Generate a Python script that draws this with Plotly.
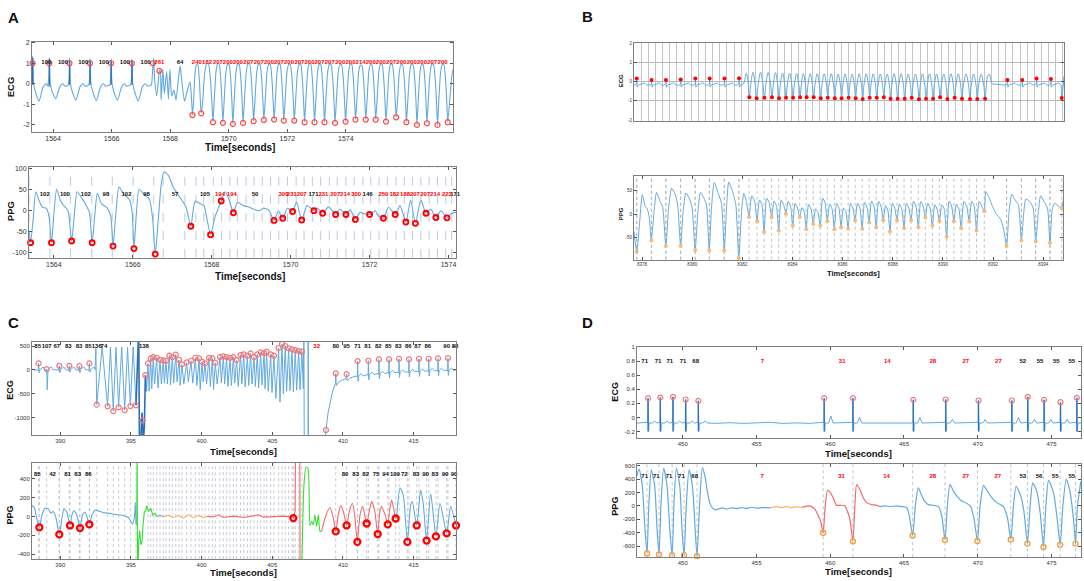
import plotly.graph_objects as go

FONT = 'Liberation Sans, Arial, sans-serif'
W, H = 1084, 581

# ============================ DATA ============================
# ---------- Panel A : ECG ----------
A_ECG_R_T = [1563.30, 1563.87, 1564.56, 1565.26, 1565.98, 1566.69, 1567.41]
A_ECG_R_PEAK = [1.35, 1.27, 1.25, 1.22, 1.22, 1.20]
A_ECG_R_MIN = [-0.85, -0.72, -0.80, -0.82, -0.80, -0.85]
A_ECG_BEAT_DT = [-0.04, -0.012, 0.005, 0.03, 0.09, 0.22, 0.36, 0.46, 0.54, 0.63]
A_ECG_BEAT_V = [-0.05, 0.30, 'R', 0.05, -0.35, 'S', -0.15, 0.0, -0.12, -0.08]
A_ECG_MID = [(1567.36, -0.05), (1567.39, 0.4), (1567.43, 1.25), (1567.47, 0.2), (1567.54, -0.58),
             (1567.60, 0.2), (1567.63, 0.63), (1567.66, 0.65), (1567.69, -0.8), (1567.75, 0.7),
             (1567.80, -0.5), (1567.88, 0.6), (1567.94, -0.75), (1567.99, 0.7), (1568.05, -0.6),
             (1568.13, -0.3), (1568.20, -0.8), (1568.28, 0.2), (1568.34, 0.87), (1568.40, 0.1),
             (1568.49, -0.85), (1568.59, -0.3), (1568.68, 0.1), (1568.72, -0.5)]
A_ECG_MID_CIRC = [(1567.63, 0.63)]
A_ECG_VT_T = [1568.76, 1569.06, 1569.46, 1569.80, 1570.14, 1570.49, 1570.85, 1571.20, 1571.55,
              1571.88, 1572.24, 1572.59, 1572.93, 1573.27, 1573.63, 1573.99, 1574.33, 1574.68,
              1575.02, 1575.37, 1575.72, 1576.07, 1576.43, 1576.77, 1577.13, 1577.48]
A_ECG_VT_V = [-1.52, -1.44, -1.87, -1.90, -1.95, -1.90, -1.82, -1.76, -1.74, -1.79, -1.79, -1.87,
              -1.87, -1.87, -1.90, -1.84, -1.74, -1.74, -1.74, -1.84, -1.63, -1.87, -2.00, -1.92,
              -2.00, -1.87]
A_ECG_VT_PEAK = [0.92, 0.97, 0.97, 0.95, 0.95, 0.97, 0.95, 0.95, 0.95, 0.93, 0.95, 0.97, 0.95,
                 0.95, 0.93, 0.95, 0.90, 0.92, 0.95, 0.95, 0.93, 0.95, 0.93, 0.95, 0.93]
A_ECG_VT_SHAPE = [(0.12, -0.9), (0.30, 0.55), (0.46, 'P'), (0.62, 'P'), (0.79, 0.2), (0.91, -0.9)]
A_ECG_TAIL = [(1577.56, -0.6), (1577.63, 0.5), (1577.70, 0.85)]
A_ECG_LAB_NORMAL = ['100', '100', '100', '100', '100', '100']
A_ECG_LAB_EXTRA_T = [1567.63, 1568.34]
A_ECG_LAB_EXTRA = ['261', '64']
A_ECG_LAB_EXTRA_ABN = [True, False]
A_ECG_LAB_VT = ['240', '182', '207', '200', '200', '207', '207', '200', '207', '200', '207', '200',
                '207', '207', '200', '200', '214', '200', '200', '207', '200', '200', '200', '207', '200']

# ---------- Panel A : PPG ----------
A_PPG = [(1563.37, -47), (1563.41, -76), (1563.48, -16), (1563.54, 45), (1563.63, 23), (1563.71, 8),
         (1563.81, 6), (1563.88, -16), (1563.94, -76), (1564.00, -8), (1564.07, 51), (1564.17, 23),
         (1564.28, 9), (1564.36, 0), (1564.45, -72), (1564.52, -8), (1564.59, 45), (1564.70, 31),
         (1564.81, 14), (1564.90, -4), (1564.97, -76), (1565.04, -8), (1565.10, 41), (1565.21, 16),
         (1565.34, 8), (1565.44, -12), (1565.50, -84), (1565.57, -8), (1565.65, 56), (1565.78, 39),
         (1565.91, 27), (1565.98, 0), (1566.03, -90), (1566.09, -8), (1566.16, 51), (1566.28, 39),
         (1566.42, 27), (1566.50, -16), (1566.57, -103), (1566.65, -16), (1566.72, 62), (1566.79, 92),
         (1566.90, 84), (1567.03, 55), (1567.20, 31), (1567.35, 8), (1567.47, -37), (1567.58, 23),
         (1567.70, 17), (1567.80, 12), (1567.97, -57), (1568.08, -16), (1568.24, 23), (1568.34, 45),
         (1568.45, 23), (1568.55, -5), (1568.65, 20), (1568.80, 12), (1568.93, 9), (1569.06, 4),
         (1569.22, 0), (1569.31, 6), (1569.44, 2), (1569.58, -23), (1569.69, 0), (1569.80, -18),
         (1569.92, 6), (1570.05, -2), (1570.15, 20), (1570.28, -22), (1570.41, 12), (1570.49, 8),
         (1570.59, 0), (1570.68, 6), (1570.81, -6), (1570.96, 9), (1571.14, -9), (1571.25, 4),
         (1571.40, -9), (1571.51, 2), (1571.64, -21), (1571.76, -4), (1571.89, -8), (1572.00, -9),
         (1572.14, 0), (1572.22, -12), (1572.35, -18), (1572.48, 8), (1572.65, -9), (1572.77, 12),
         (1572.92, -27), (1573.04, 25), (1573.16, -30), (1573.30, 25), (1573.43, -6), (1573.55, 4),
         (1573.68, -16), (1573.81, 0), (1573.96, -17), (1574.08, -6), (1574.19, -4)]
A_PPG_MIN = [(1563.41, -76), (1563.94, -76), (1564.45, -72), (1564.97, -76), (1565.50, -84),
             (1566.03, -90), (1566.57, -103), (1567.47, -37), (1567.97, -57), (1568.24, 23),
             (1568.55, -5), (1569.58, -23), (1569.80, -18), (1570.05, -2), (1570.28, -22),
             (1570.59, 0), (1570.81, -6), (1571.14, -9), (1571.40, -9), (1571.64, -21),
             (1572.00, -9), (1572.35, -18), (1572.65, -9), (1572.92, -27), (1573.16, -30),
             (1573.43, -6), (1573.68, -16), (1573.96, -17)]
A_PPG_LAB_T = [1563.77, 1564.28, 1564.81, 1565.32, 1565.84, 1566.35, 1567.07, 1567.83, 1568.21,
               1568.51, 1569.10, 1569.82, 1570.03, 1570.28, 1570.58, 1570.83, 1571.13, 1571.38,
               1571.66, 1571.95, 1572.35, 1572.63, 1572.90, 1573.15, 1573.41, 1573.66, 1573.96, 1574.17]
A_PPG_LAB = ['102', '100', '102', '98', '102', '98', '57', '105', '194', '194', '50', '300', '231',
             '207', '171', '231', '207', '214', '300', '146', '250', '182', '188', '207', '207', '214',
             '222', '171']
A_PPG_LAB_ABN = [0, 0, 0, 0, 0, 0, 0, 0, 1, 1, 0, 1, 1, 1, 0, 1, 1, 1, 1, 0, 1, 1, 1, 1, 1, 1, 1, 0]
A_PPG_VLINES = [1563.37, 1563.90, 1564.42, 1564.96, 1565.48, 1566.01, 1566.53, 1566.77, 1567.32,
                1567.60, 1567.80, 1568.04, 1568.25, 1568.46, 1568.65, 1568.87, 1569.07, 1569.28,
                1569.49, 1569.70, 1569.92, 1570.14, 1570.34, 1570.55, 1570.76, 1570.98, 1571.18,
                1571.40, 1571.61, 1571.83, 1572.03, 1572.24, 1572.45, 1572.67, 1572.88, 1573.09,
                1573.30, 1573.51, 1573.72, 1573.93, 1574.08]

# ---------- Panel B : ECG ----------
B_ECG_N1_T = [8377.79, 8378.38, 8378.95, 8379.54, 8380.12, 8380.69, 8381.28, 8381.86]
B_ECG_N1_V = [0.17, 0.10, 0.10, 0.12, 0.17, 0.17, 0.17, 0.19]
B_ECG_N2_T = [8392.54, 8393.13, 8393.70, 8394.27]
B_ECG_N2_V = [0.10, 0.10, 0.17, 0.15]
B_ECG_BEAT_DT = [-0.06, -0.015, 0.0, 0.025, 0.06, 0.20, 0.30, 0.40]
B_ECG_BEAT_V = [-0.17, -0.12, 'R', -0.28, -0.17, -0.12, -0.06, -0.16]
B_ECG_LEADIN = [(8377.68, -0.16)]
B_ECG_VT_START = [(8382.03, -0.12), (8382.10, 0.2), (8382.15, 0.45), (8382.21, 0.1)]
B_ECG_VT_T = [8382.27, 8382.56, 8382.87, 8383.17, 8383.45, 8383.73, 8384.01, 8384.29, 8384.55,
              8384.83, 8385.11, 8385.39, 8385.67, 8385.94, 8386.22, 8386.50, 8386.78, 8387.06,
              8387.34, 8387.62, 8387.89, 8388.17, 8388.45, 8388.73, 8389.02, 8389.30, 8389.58,
              8389.86, 8390.15, 8390.44, 8390.73, 8391.05, 8391.34, 8391.65]
B_ECG_VT_V = [-0.81, -0.86, -0.84, -0.81, -0.86, -0.83, -0.83, -0.81, -0.81, -0.81, -0.86, -0.84,
              -0.86, -0.86, -0.84, -0.86, -0.90, -0.83, -0.84, -0.81, -0.88, -0.88, -0.88, -0.84,
              -0.91, -0.88, -0.88, -0.81, -0.90, -0.84, -0.88, -0.90, -0.90, -0.88]
B_ECG_VT_PEAK = [0.50, 0.50, 0.48, 0.48, 0.46, 0.45, 0.43, 0.43, 0.42, 0.42, 0.42, 0.42, 0.41,
                 0.41, 0.41, 0.42, 0.42, 0.42, 0.41, 0.41, 0.42, 0.42, 0.41, 0.41, 0.42, 0.42,
                 0.41, 0.41, 0.42, 0.42, 0.41, 0.41, 0.41]
B_ECG_VT_SHAPE = [(0.17, -0.2), (0.5, 'P'), (0.83, -0.2)]
B_ECG_VT_END = [(8391.70, -0.2), (8391.76, 0.35), (8391.82, 0.4), (8391.88, 0.1), (8391.93, -0.1),
                (8392.10, -0.13), (8392.30, -0.15)]
B_ECG_END = [(8394.66, -0.16), (8394.70, -0.85), (8394.79, 0.3)]

# ---------- Panel B : PPG ----------
B_PPG_HEAD = [(8377.68, -37), (8377.79, -80), (8377.92, -8), (8378.01, 41), (8378.13, 16),
              (8378.21, 11), (8378.29, -8), (8378.37, -56), (8378.48, 6), (8378.58, 46),
              (8378.72, 27), (8378.82, 16), (8378.95, -68), (8379.06, 13), (8379.18, 55),
              (8379.33, 41), (8379.42, 20), (8379.54, -68), (8379.64, 6), (8379.75, 45),
              (8379.88, 34), (8379.99, 16), (8380.12, -76), (8380.23, 6), (8380.33, 46),
              (8380.47, 34), (8380.57, 20), (8380.68, -77), (8380.77, 13), (8380.88, 67),
              (8381.04, 44), (8381.17, 23), (8381.28, -77), (8381.37, 13), (8381.46, 68),
              (8381.61, 48), (8381.74, 20), (8381.86, -93), (8381.97, 6), (8382.06, 44), (8382.16, 27)]
B_PPG_HEAD_MIN = [(8377.79, -80), (8378.37, -56), (8378.95, -68), (8379.54, -68), (8380.12, -76),
                  (8380.68, -77), (8381.28, -77), (8381.86, -93)]
B_PPG_VT_T = [8382.27, 8382.59, 8382.87, 8383.17, 8383.45, 8383.74, 8384.01, 8384.29, 8384.55,
              8384.83, 8385.11, 8385.39, 8385.67, 8385.94, 8386.22, 8386.50, 8386.78, 8387.06,
              8387.34, 8387.62, 8387.89, 8388.17, 8388.45, 8388.73, 8389.02, 8389.30, 8389.58,
              8389.86, 8390.15, 8390.44, 8390.73, 8391.05, 8391.34, 8391.65]
B_PPG_VT_V = [-6, -15, -38, -7, -35, 1, -25, -6, -32, -21, -25, -15, -32, -28, -31, -13, -31, -18,
              -28, -13, -37, -13, -30, -13, -28, -7, -25, -15, -48, -15, -30, -15, -35, 6]
B_PPG_VT_PEAK = [39, 30, 34, 28, 30, 27, 23, 14, 21, 11, 34, 21, 23, 13, 23, 23, 25, 27, 27, 18,
                 23, 21, 23, 27, 27, 23, 20, 20, 27, 21, 27, 27, 27]
B_PPG_VT_SHOULDER = [28, 20, 24, 18, 20, 17, 13, 6, 11, 3, 24, 11, 13, 5, 13, 13, 15, 17, 17, 8,
                     13, 11, 13, 17, 17, 13, 10, 10, 17, 11, 17, 17, 17]
B_PPG_TAIL = [(8391.71, 48), (8391.85, 34), (8391.98, 16), (8392.11, 2), (8392.31, -12),
              (8392.44, -37), (8392.54, -68), (8392.64, 6), (8392.75, 42), (8392.88, 30),
              (8393.01, 20), (8393.13, -56), (8393.23, 6), (8393.31, 32), (8393.46, 27),
              (8393.60, 13), (8393.70, -58), (8393.81, 6), (8393.90, 39), (8394.03, 27),
              (8394.17, 13), (8394.27, -61), (8394.36, 10), (8394.45, 23), (8394.56, 20),
              (8394.66, 14), (8394.74, 13), (8394.79, 28)]
B_PPG_TAIL_MIN = [(8392.54, -68), (8393.13, -56), (8393.70, -58), (8394.27, -61), (8394.74, 13)]

# ---------- Panel C : ECG ----------
C_ECG_N_T = [388.47, 389.04, 389.93, 390.64, 391.35, 392.06]
C_ECG_N_R = [134, 14, 84, 84, 77, 134]
C_ECG_N_S = [-60, -420, -60, -50, -60, -50]
C_ECG_BEAT_DT = [-0.10, -0.03, 0.0, 0.04, 0.09, 0.22, 0.32, 0.45]
C_ECG_BEAT_V = [0, -20, 'R', 'S', 0, 40, 60, 0]
C_ECG_START = [(388.0, 20), (388.2, -10)]
C_ECG_VF_START = [(392.46, 0), (392.52, 450)]
C_ECG_VF_T = [392.58, 393.35, 393.75, 394.13, 394.56, 394.96, 395.36]
C_ECG_VF_V = [-732, -767, -866, -788, -845, -760, -746]
C_ECG_VF_PEAK = [470, 480, 470, 480, 470, 480]
C_ECG_TR = [(395.48, 550), (395.55, 900), (395.60, -1500), (395.70, -1500), (395.78, -900),
            (395.83, -1063), (395.88, -1500), (395.95, -1200), (396.02, -113), (396.10, -450)]
C_ECG_TR_CIRC = [(395.83, -1063), (396.02, -113)]
C_ECG_OSC_T = [396.21, 396.40, 396.58, 396.82, 397.06, 397.29, 397.48, 397.72, 397.93, 398.17,
               398.40, 398.61, 398.94, 399.25, 399.56, 399.82, 400.03, 400.24, 400.52, 400.76,
               400.97, 401.30, 401.54, 401.77, 402.01, 402.25, 402.48, 402.76, 402.98, 403.24,
               403.47, 403.71, 403.94, 404.18, 404.42, 404.60, 404.89, 405.12, 405.45, 405.69,
               405.92, 406.16, 406.40, 406.63, 406.87, 407.10]
C_ECG_OSC_V = [134, 239, 267, 253, 211, 197, 190, 296, 267, 317, 211, 113, 155, 190, 253, 239,
               169, 134, 253, 239, 148, 267, 282, 267, 253, 267, 204, 310, 324, 296, 345, 267,
               324, 366, 352, 380, 324, 296, 458, 542, 500, 451, 429, 415, 394, 380]
C_ECG_OSC_MIN = [-450, -400, -300, -380, -300, -280, -300, -320, -280, -250, -330, -300, -260,
                 -280, -330, -420, -250, -300, -350, -420, -300, -280, -300, -350, -330, -280,
                 -350, -300, -360, -330, -300, -350, -380, -320, -400, -450, -480, -600, -680,
                 -500, -450, -440, -460, -430, -420, -400]
C_ECG_GAP = [(407.24, 900), (407.26, -1600), (407.53, -1600), (407.54, 900), (407.56, -1600),
             (408.70, -1600)]
C_ECG_REC = [(408.73, -1450), (408.80, -1265), (408.95, -900), (409.10, -650), (409.25, -480),
             (409.42, -320), (409.47, -290), (409.49, -77), (409.53, -330), (409.70, -260),
             (409.90, -220), (410.10, -200), (410.22, -190), (410.26, -91), (410.30, -230),
             (410.50, -170), (410.80, -140)]
C_ECG_REC_CIRC = [(408.80, -1265), (409.49, -77), (410.26, -91)]
C_ECG_RB_T = [411.04, 411.80, 412.55, 413.26, 413.97, 414.67, 415.38, 416.07, 416.73, 417.43]
C_ECG_RB_R = [183, 190, 218, 218, 232, 218, 232, 232, 239, 246]
C_ECG_RB_BASE = [-130, -100, -80, -60, -50, -40, -30, -20, -15, -10]
C_ECG_RB_DT = [-0.08, -0.02, 0.0, 0.03, 0.08, 0.25, 0.40]
C_ECG_RB_REL = [0, -20, 'R', -110, 0, 50, 0]
C_ECG_END = [(418.0, 0)]
C_ECG_LAB_T = [388.40, 389.04, 389.75, 390.57, 391.33, 391.99, 392.58, 393.09, 395.92, 408.14,
               409.49, 410.26, 411.04, 411.75, 412.50, 413.21, 413.92, 414.63, 415.29, 416.00,
               417.34, 417.93]
C_ECG_LAB = ['85', '107', '67', '83', '83', '85', '136', '74', '138', '32', '80', '95', '71', '81',
             '82', '85', '83', '86', '87', '86', '90', '88']
C_ECG_LAB_ABN = [0, 0, 0, 0, 0, 0, 0, 0, 0, 1, 0, 0, 0, 0, 0, 0, 0, 0, 0, 0, 0, 0]

# ---------- Panel C : PPG ----------
C_PPG_BLUE1 = [(388.00, 116), (388.17, 95), (388.33, -18), (388.52, -116), (388.71, 18), (388.92, 88),
               (389.16, 81), (389.32, 35), (389.51, 53), (389.70, -18), (389.93, -190), (390.12, -18),
               (390.26, 81), (390.45, 53), (390.69, -95), (390.83, 18), (390.97, 60), (391.16, 18),
               (391.40, -123), (391.58, 25), (391.75, 46), (391.92, -18), (392.06, -84), (392.25, 18),
               (392.46, 67), (392.69, 60), (393.05, 42), (393.52, 32), (393.99, 18), (394.46, 11),
               (394.82, -11), (395.12, -81), (395.26, 18), (395.31, 151), (395.36, -88)]
C_PPG_GREEN1 = [(395.36, -88), (395.41, -88), (395.44, 800), (395.47, -800), (395.55, -250),
                (395.62, -150), (395.70, -300), (395.78, -280), (395.85, -100), (395.95, 50),
                (396.05, 60), (396.11, 116), (396.25, 53), (396.40, 88), (396.54, 18), (396.70, 35),
                (396.82, 0)]
C_PPG_BLUE2 = [(396.82, 0), (397.06, 11), (397.29, -4)]
C_PPG_ORANGE = [(397.29, -4), (397.65, 11), (398.00, -11), (398.35, 11), (398.71, -18), (399.06, 18),
                (399.42, -11), (399.77, 11), (400.12, -11), (400.36, 0)]
C_PPG_RED1 = [(400.36, 0), (400.83, -4), (401.18, 18), (401.54, -11), (402.25, 4), (402.95, -11),
              (403.66, 7), (404.01, 18), (404.37, -7), (405.08, -4), (405.78, 4), (406.37, -4),
              (406.49, -17), (406.61, 53), (406.66, 900), (406.95, 900), (406.97, -900)]
C_PPG_GREEN2 = [(407.05, -900), (407.24, 333), (407.39, 526), (407.53, 509), (407.67, -95),
                (407.79, -53), (407.91, -88), (408.02, 18), (408.14, -105), (408.26, 18),
                (408.38, -158), (408.49, -158)]
C_PPG_RED2 = [(408.49, -158), (408.73, -18), (409.08, 95), (409.32, -18), (409.49, -158), (409.67, 18),
              (409.84, 116), (410.03, 53), (410.26, -95), (410.45, 53), (410.67, 140), (410.83, 18),
              (411.02, -270), (411.21, 18), (411.40, 105), (411.68, -74), (411.87, 60), (412.03, 158),
              (412.25, 60), (412.46, -186), (412.62, 60), (412.74, 105), (412.98, 18), (413.17, -84),
              (413.33, 100), (413.45, 175), (413.62, 60), (413.73, -21), (413.80, 0)]
C_PPG_BLUE3 = [(413.80, 0), (414.04, 305), (414.27, 228), (414.56, -270), (414.79, 123), (414.91, 158),
               (415.22, -95), (415.50, 280), (415.69, 123), (415.92, -256), (416.21, 245),
               (416.58, -211), (416.87, 140), (417.34, -179), (417.62, 105), (418.00, -95)]
C_PPG_MIN = [(388.52, -116), (389.93, -190), (390.69, -95), (391.40, -123), (392.06, -84),
             (406.49, -17), (409.49, -158), (410.26, -95), (411.02, -270), (411.68, -74),
             (412.46, -186), (413.17, -84), (413.73, -21), (414.56, -270), (415.22, -95),
             (415.92, -256), (416.58, -211), (417.34, -179), (418.00, -95)]
C_PPG_LAB_T = [388.38, 389.46, 390.52, 391.23, 391.99, 410.15, 410.90, 411.61, 412.34, 413.02,
               413.68, 414.34, 415.17, 415.85, 416.51, 417.22, 417.86]
C_PPG_LAB = ['85', '42', '81', '83', '86', '80', '83', '82', '75', '94', '109', '72', '83', '90',
             '83', '90', '90']

# ---------- Panel D : ECG ----------
D_ECG_R_T = [447.65, 448.48, 449.34, 450.20, 451.06, 459.59, 461.54, 465.63, 467.83, 470.05,
             472.31, 473.39, 474.50, 475.61, 476.72]
D_ECG_R_V = [0.273, 0.282, 0.292, 0.254, 0.235, 0.273, 0.273, 0.249, 0.254, 0.240, 0.240, 0.292,
             0.249, 0.216, 0.278]
D_ECG_T_V = [-0.05, -0.05, -0.05, -0.05, -0.05, 0.02, 0.0, 0.0, -0.03, -0.03, 0.0, -0.03, -0.03,
             -0.03, -0.03]
D_ECG_BASE = -0.08
D_ECG_BEAT_DT = [-0.06, -0.02, 0.0, 0.035, 0.07, 0.30, 0.45, 0.60]
D_ECG_BEAT_V = ['B', -0.07, 'R', -0.20, 'B', 'B', 'T', 'B']
D_ECG_FLAT = [(446.9, -0.08), (452.3, -0.085), (453.2, -0.075), (454.1, -0.085), (455.0, -0.078),
              (455.9, -0.07), (456.8, -0.085), (457.7, -0.078), (458.6, -0.085), (462.5, -0.08),
              (463.4, -0.085), (464.3, -0.075), (477.0, -0.08)]
D_ECG_LAB_T = [447.42, 448.33, 449.12, 450.02, 450.88, 455.41, 460.81, 463.87, 466.95, 469.19,
               471.40, 473.05, 474.23, 475.32, 476.38]
D_ECG_LAB = ['71', '71', '71', '71', '68', '7', '31', '14', '28', '27', '27', '52', '55', '55', '55']
D_ECG_LAB_ABN = [0, 0, 0, 0, 0, 1, 1, 1, 1, 1, 1, 0, 0, 0, 0]

# ---------- Panel D : PPG ----------
D_PPG_BLUE1 = [(446.86, 429), (447.04, 547), (447.26, 293), (447.44, -342), (447.58, -708), (447.71, 49),
               (447.87, 537), (448.10, 293), (448.26, -342), (448.39, -722), (448.53, 49), (448.71, 561),
               (448.94, 293), (449.12, -342), (449.28, -732), (449.41, 49), (449.57, 561), (449.80, 293),
               (449.95, -342), (450.09, -732), (450.25, 49), (450.43, 537), (450.66, 293), (450.84, -342),
               (450.97, -747), (451.15, 49), (451.33, 571), (451.51, 439), (451.65, 244), (451.83, 49),
               (452.01, -29), (452.24, -59), (452.51, -39), (452.74, -29), (452.96, -49), (453.30, -29),
               (453.64, -39), (453.98, -24), (454.32, -39), (454.66, -20), (455.00, -34), (455.45, -24),
               (455.90, -29), (456.02, -20)]
D_PPG_ORANGE = [(456.02, -20), (456.36, -10), (456.70, -24), (457.04, -10), (457.38, -24),
                (457.71, -15), (458.05, -20)]
D_PPG_RED = [(458.05, -20), (458.28, -10), (458.51, 0), (458.73, -10), (458.96, -49), (459.19, -146),
             (459.37, -244), (459.52, -400), (459.66, 0), (459.82, 234), (460.02, 195), (460.20, 122),
             (460.43, 10), (460.77, 10), (461.00, 0), (461.15, -73), (461.33, -195), (461.54, -527),
             (461.67, 0), (461.79, 317), (462.01, 244), (462.24, 122), (462.47, 49), (462.81, 20),
             (463.15, 10), (463.37, -10)]
D_PPG_BLUE2 = [(463.37, -10), (463.71, 0), (464.05, -10), (464.50, 0), (464.84, -10), (465.18, -24),
               (465.36, -146), (465.59, -439), (465.77, 0), (465.97, 268), (466.20, 156), (466.43, 59),
               (466.65, 20), (466.99, 10), (467.33, -10), (467.56, -146), (467.78, -503), (467.94, 0),
               (468.12, 317), (468.35, 220), (468.62, 137), (468.91, 73), (469.25, 39), (469.52, -10),
               (469.75, -195), (469.98, -522), (470.16, 0), (470.39, 302), (470.66, 220), (470.95, 122),
               (471.29, 49), (471.74, -10), (472.01, -171), (472.24, -498), (472.42, 0), (472.60, 293),
               (472.92, 146), (473.14, -98), (473.37, -561), (473.55, 0), (473.73, 342), (474.00, 220),
               (474.23, -98), (474.46, -610), (474.62, 0), (474.80, 381), (475.14, 195), (475.36, -146),
               (475.59, -576), (475.77, 0), (476.00, 400), (476.27, 195), (476.49, -195), (476.63, -561),
               (476.76, 0), (476.99, 366)]
D_PPG_MIN = [(447.58, -708), (448.39, -722), (449.28, -732), (450.09, -732), (450.97, -747),
             (459.52, -400), (461.54, -527), (465.59, -439), (467.78, -503), (469.98, -522),
             (472.24, -498), (473.37, -561), (474.46, -610), (475.59, -576), (476.63, -561)]
D_PPG_LAB_T = [447.42, 448.21, 449.07, 449.91, 450.81, 455.38, 460.77, 463.82, 466.95, 469.19,
               471.36, 473.05, 474.16, 475.25, 476.38]
D_PPG_LAB = ['71', '71', '71', '71', '68', '7', '31', '14', '28', '27', '27', '53', '56', '55', '55']
D_PPG_LAB_ABN = [0, 0, 0, 0, 0, 1, 1, 1, 1, 1, 1, 0, 0, 0, 0]

# ============================ STYLE ============================
BLUE = '#62a9e0'
DARK = '#2a70b8'
RED = '#ff0000'
GREEN = '#33e033'
ORANGE = '#f6b466'
SEGRED = '#f26a6a'
FRAME = '#7f7f7f'

BOXES = {1: (32, 39, 453, 130), 2: (29, 165, 456, 257), 3: (634, 40, 1064, 119),
         4: (634, 174, 1063, 259), 5: (32, 342, 456, 436), 6: (32, 464, 456, 561),
         7: (637, 347, 1081, 439), 8: (637, 465, 1081, 559)}

fig = go.Figure()


def names(n):
    return ('x' if n == 1 else f'x{n}', 'y' if n == 1 else f'y{n}')


def unzip(pts):
    return [p[0] for p in pts], [p[1] for p in pts]


def add_line(n, xs, ys, color=BLUE, width=1.1, shape='spline', smoothing=0.6):
    xn, yn = names(n)
    ln = dict(color=color, width=width, shape=shape)
    if shape == 'spline':
        ln['smoothing'] = smoothing
    fig.add_trace(go.Scatter(x=xs, y=ys, mode='lines', line=ln, xaxis=xn, yaxis=yn,
                             hoverinfo='skip', showlegend=False))


def add_markers(n, xs, ys, color, size, symbol='circle-open', lw=1.2):
    xn, yn = names(n)
    fig.add_trace(go.Scatter(x=xs, y=ys, mode='markers',
                             marker=dict(color=color, size=size, symbol=symbol,
                                         line=dict(color=color, width=lw)),
                             xaxis=xn, yaxis=yn, hoverinfo='skip', showlegend=False, cliponaxis=False))


def add_vlines(n, ts, y0, y1, color, dash='dash', width=0.9):
    xs, ys = [], []
    for t in ts:
        xs += [t, t, None]
        ys += [y0, y1, None]
    xn, yn = names(n)
    fig.add_trace(go.Scatter(x=xs, y=ys, mode='lines', line=dict(color=color, width=width, dash=dash),
                             xaxis=xn, yaxis=yn, hoverinfo='skip', showlegend=False))


def add_labels(n, ts, y, texts, abn, size):
    xn, yn = names(n)
    for flag, col in ((0, '#111111'), (1, RED)):
        sel = [i for i in range(len(ts)) if bool(abn[i]) == bool(flag)]
        if not sel:
            continue
        fig.add_trace(go.Scatter(x=[ts[i] for i in sel], y=[y] * len(sel), text=[texts[i] for i in sel],
                                 mode='text', textposition='middle center',
                                 textfont=dict(size=size, color=col, family=FONT, weight='bold'),
                                 xaxis=xn, yaxis=yn, hoverinfo='skip', showlegend=False, cliponaxis=False))


def templated(r, dts, vals, subs):
    out = []
    for dt, v in zip(dts, vals):
        out.append((r + dt, subs[v] if isinstance(v, str) else v))
    return out


def cycles(ts, vs, peaks, shape):
    out = []
    for i in range(len(ts)):
        out.append((ts[i], vs[i]))
        if i < len(ts) - 1:
            g = ts[i + 1] - ts[i]
            for f, v in shape:
                out.append((ts[i] + f * g, peaks[i] if v == 'P' else v))
    return out


# ---------------- A ECG ----------------
pts = []
for i in range(6):
    pts += templated(A_ECG_R_T[i], A_ECG_BEAT_DT, A_ECG_BEAT_V,
                     {'R': A_ECG_R_PEAK[i], 'S': A_ECG_R_MIN[i]})
pts += A_ECG_MID
pts += cycles(A_ECG_VT_T, A_ECG_VT_V, A_ECG_VT_PEAK, A_ECG_VT_SHAPE)
pts += A_ECG_TAIL
add_line(1, *unzip(pts), shape='spline', smoothing=0.5)
sx, sy = [], []
for i in range(6):
    sx += [A_ECG_R_T[i] + 0.004, A_ECG_R_T[i] + 0.004, None]
    sy += [-0.05, A_ECG_R_PEAK[i] - 0.08, None]
add_line(1, sx, sy, color=DARK, width=1.4, shape='linear')
cx = A_ECG_R_T + [p[0] for p in A_ECG_MID_CIRC] + A_ECG_VT_T
cy = [1.0] * len(A_ECG_R_T) + [p[1] for p in A_ECG_MID_CIRC] + A_ECG_VT_V
add_markers(1, cx, cy, '#ff4848', 5)
add_labels(1, [A_ECG_R_T[i] + 0.47 for i in range(6)], 1.05, A_ECG_LAB_NORMAL, [0] * 6, 6)
add_labels(1, A_ECG_LAB_EXTRA_T, 1.05, A_ECG_LAB_EXTRA, A_ECG_LAB_EXTRA_ABN, 6)
mids = [(A_ECG_VT_T[i] + A_ECG_VT_T[i + 1]) / 2 for i in range(len(A_ECG_VT_T) - 1)]
add_labels(1, mids, 1.05, A_ECG_LAB_VT, [1] * len(mids), 6)

# ---------------- A PPG ----------------
add_vlines(2, A_PPG_VLINES, -111.8, 104.7, color='#b4c4da', dash='dash', width=0.9)
add_line(2, *unzip(A_PPG))
add_markers(2, *unzip(A_PPG_MIN), RED, 5, lw=1.9)
add_labels(2, A_PPG_LAB_T, 38, A_PPG_LAB, A_PPG_LAB_ABN, 6)

# ---------------- B ECG ----------------
pts = list(B_ECG_LEADIN)
for i, r in enumerate(B_ECG_N1_T):
    beat = templated(r, B_ECG_BEAT_DT, B_ECG_BEAT_V, {'R': B_ECG_N1_V[i]})
    pts += [p for p in beat if p[0] < B_ECG_VT_START[0][0]]
pts += B_ECG_VT_START
pts += cycles(B_ECG_VT_T, B_ECG_VT_V, B_ECG_VT_PEAK, B_ECG_VT_SHAPE)
pts += B_ECG_VT_END
for i, r in enumerate(B_ECG_N2_T):
    pts += templated(r, B_ECG_BEAT_DT, B_ECG_BEAT_V, {'R': B_ECG_N2_V[i]})
pts += B_ECG_END
pts.sort(key=lambda p: p[0])
add_line(3, *unzip(pts), width=1.0, smoothing=1.0)
bx = B_ECG_N1_T + B_ECG_VT_T + B_ECG_N2_T + [B_ECG_END[1][0]]
by = B_ECG_N1_V + B_ECG_VT_V + B_ECG_N2_V + [B_ECG_END[1][1]]
add_markers(3, bx, by, RED, 4, symbol='circle', lw=0)

# ---------------- B PPG ----------------
vt = []
for i in range(len(B_PPG_VT_T)):
    vt.append((B_PPG_VT_T[i], B_PPG_VT_V[i]))
    if i < len(B_PPG_VT_T) - 1:
        g = B_PPG_VT_T[i + 1] - B_PPG_VT_T[i]
        vt.append((B_PPG_VT_T[i] + 0.33 * g, B_PPG_VT_PEAK[i]))
        vt.append((B_PPG_VT_T[i] + 0.68 * g, B_PPG_VT_SHOULDER[i]))
pts = B_PPG_HEAD + vt + B_PPG_TAIL
mins = B_PPG_HEAD_MIN + list(zip(B_PPG_VT_T, B_PPG_VT_V)) + B_PPG_TAIL_MIN
add_vlines(4, [p[0] for p in mins] + B_ECG_N1_T + B_ECG_N2_T, -97, 82, color='#b0b0b0', dash='dot', width=0.8)
add_line(4, *unzip(pts), width=1.0)
add_markers(4, *unzip(mins), '#f7b878', 4, symbol='circle', lw=0)

# ---------------- C ECG ----------------
pts = list(C_ECG_START)
for i, r in enumerate(C_ECG_N_T):
    pts += templated(r, C_ECG_BEAT_DT, C_ECG_BEAT_V, {'R': C_ECG_N_R[i], 'S': C_ECG_N_S[i]})
pts += C_ECG_VF_START
for i in range(len(C_ECG_VF_T)):
    pts.append((C_ECG_VF_T[i], C_ECG_VF_V[i]))
    if i < len(C_ECG_VF_T) - 1:
        pts.append(((C_ECG_VF_T[i] + C_ECG_VF_T[i + 1]) / 2, C_ECG_VF_PEAK[i]))
add_line(5, *unzip(pts), width=1.0, shape='linear')
tr = [pts[-1]] + C_ECG_TR
add_line(5, *unzip(tr), color=DARK, width=1.6, shape='linear')
osc = [C_ECG_TR[-1]]
for i in range(len(C_ECG_OSC_T)):
    osc.append((C_ECG_OSC_T[i], C_ECG_OSC_V[i]))
    g = (C_ECG_OSC_T[i + 1] - C_ECG_OSC_T[i]) if i < len(C_ECG_OSC_T) - 1 else 0.23
    osc.append((C_ECG_OSC_T[i] + 0.4 * g, C_ECG_OSC_MIN[i]))
osc += C_ECG_GAP + C_ECG_REC
for i, r in enumerate(C_ECG_RB_T):
    b = C_ECG_RB_BASE[i]
    for dt, v in zip(C_ECG_RB_DT, C_ECG_RB_REL):
        osc.append((r + dt, C_ECG_RB_R[i] if v == 'R' else b + v))
osc += C_ECG_END
add_line(5, *unzip(osc), width=1.0, shape='linear')
ccx = C_ECG_N_T + C_ECG_VF_T + [p[0] for p in C_ECG_TR_CIRC] + C_ECG_OSC_T + \
    [p[0] for p in C_ECG_REC_CIRC] + C_ECG_RB_T
ccy = C_ECG_N_R + C_ECG_VF_V + [p[1] for p in C_ECG_TR_CIRC] + C_ECG_OSC_V + \
    [p[1] for p in C_ECG_REC_CIRC] + C_ECG_RB_R
add_markers(5, ccx, ccy, '#f07878', 5)
add_labels(5, C_ECG_LAB_T, 490, C_ECG_LAB, C_ECG_LAB_ABN, 6)

# ---------------- C PPG ----------------
vl = C_ECG_N_T + C_ECG_VF_T + C_ECG_OSC_T + [p[0] for p in C_PPG_MIN] + C_ECG_RB_T
add_vlines(6, vl, -453, 568, color='#b4bcc8', dash='dot', width=0.8)
add_line(6, *unzip(C_PPG_BLUE1))
add_line(6, *unzip(C_PPG_GREEN1), color=GREEN, shape='linear')
add_line(6, *unzip(C_PPG_BLUE2))
add_line(6, *unzip(C_PPG_ORANGE), color=ORANGE)
add_line(6, *unzip(C_PPG_RED1), color=SEGRED, shape='linear')
add_line(6, *unzip(C_PPG_GREEN2), color=GREEN)
add_line(6, *unzip(C_PPG_RED2), color=SEGRED)
add_line(6, *unzip(C_PPG_BLUE3))
add_markers(6, *unzip(C_PPG_MIN), RED, 6, lw=2.3)
add_labels(6, C_PPG_LAB_T, 450, C_PPG_LAB, [0] * len(C_PPG_LAB), 6)

# ---------------- D ECG ----------------
pts = list(D_ECG_FLAT)
for i, r in enumerate(D_ECG_R_T):
    pts += templated(r, D_ECG_BEAT_DT, D_ECG_BEAT_V,
                     {'R': D_ECG_R_V[i], 'B': D_ECG_BASE, 'T': D_ECG_T_V[i]})
pts.sort(key=lambda p: p[0])
add_line(7, *unzip(pts), width=1.0, shape='linear')
sx, sy = [], []
for i, r in enumerate(D_ECG_R_T):
    sx += [r, r, None]
    sy += [-0.2, D_ECG_R_V[i], None]
add_line(7, sx, sy, color=DARK, width=1.3, shape='linear')
add_markers(7, D_ECG_R_T, D_ECG_R_V, '#f07878', 5)
add_labels(7, D_ECG_LAB_T, 0.8, D_ECG_LAB, D_ECG_LAB_ABN, 6)

# ---------------- D PPG ----------------
add_vlines(8, [p[0] for p in D_PPG_MIN], -763, 624, color='#b4bcc8', dash='dot', width=0.9)
add_line(8, *unzip(D_PPG_BLUE1), width=1.2)
add_line(8, *unzip(D_PPG_ORANGE), color=ORANGE, width=1.2)
add_line(8, *unzip(D_PPG_RED), color=SEGRED, width=1.2)
add_line(8, *unzip(D_PPG_BLUE2), width=1.2)
add_markers(8, *unzip(D_PPG_MIN), '#f0a040', 5, lw=1.4)
add_labels(8, D_PPG_LAB_T, 440, D_PPG_LAB, D_PPG_LAB_ABN, 6)

# ============================ AXES ============================
A_XT = [1564, 1566, 1568, 1570, 1572, 1574]
B_XT = [8378, 8380, 8382, 8384, 8386, 8388, 8390, 8392, 8394]
C_XT = [390, 395, 400, 405, 410, 415]
D_XT = [450, 455, 460, 465, 470, 475]
AXES = {
    1: dict(xr=[1563.28, 1577.66], yr=[-2.34, 2.05], xt=A_XT, yt=[-2, -1, 0, 1, 2], fs=7),
    2: dict(xr=[1563.37, 1574.19], yr=[-111.8, 104.7], xt=A_XT, yt=[-100, -50, 0, 50, 100], fs=7),
    3: dict(xr=[8377.68, 8394.79], yr=[-2.05, 2.05], xt=None, yt=[-2, -1, 0, 1, 2], fs=4.5),
    4: dict(xr=[8377.68, 8394.79], yr=[-97, 82], xt=B_XT, yt=[-50, 0, 50], fs=4.5),
    5: dict(xr=[388, 418], yr=[-1375, 583], xt=C_XT, yt=[-1000, -500, 0, 500], fs=6),
    6: dict(xr=[388, 418], yr=[-453, 568], xt=C_XT, yt=[-400, -200, 0, 200, 400], fs=6),
    7: dict(xr=[446.9, 477.0], yr=[-0.296, 1.0], xt=D_XT,
            yt=[-0.2, 0, 0.2, 0.4, 0.6, 0.8, 1.0], fs=6),
    8: dict(xr=[446.9, 477.0], yr=[-763, 624], xt=D_XT,
            yt=[-600, -400, -200, 0, 200, 400, 600], fs=6),
}

lay = {}
for n, a in AXES.items():
    l, t, r, b = BOXES[n]
    xn, yn = names(n)
    base = dict(ticks='inside', ticklen=3, tickcolor='#555', showline=True, linecolor=FRAME,
                linewidth=1, mirror='ticks', zeroline=False, showgrid=False,
                tickfont=dict(size=a['fs'], color='#333', family=FONT))
    xa = dict(base, domain=[l / W, r / W], range=a['xr'], anchor=yn)
    if a['xt'] is None:
        xa.update(tickmode='linear', tick0=8377.68, dtick=0.2845, showticklabels=False,
                  showgrid=True, gridcolor='#c4c4c4', gridwidth=1, ticks='')
    else:
        xa.update(tickvals=a['xt'], ticktext=['%g' % v for v in a['xt']])
    ya = dict(base, domain=[1 - b / H, 1 - t / H], range=a['yr'], anchor=xn,
              tickvals=a['yt'], ticktext=['%g' % v for v in a['yt']])
    if n == 3:
        ya.update(showgrid=True, gridcolor='#b8b8b8', gridwidth=1)
    lay['xaxis' if n == 1 else f'xaxis{n}'] = xa
    lay['yaxis' if n == 1 else f'yaxis{n}'] = ya

ann = []


def note(text, px, py, size, angle=0):
    ann.append(dict(text=f'<b>{text}</b>', x=px / W, y=1 - py / H, xref='paper',
                    yref='paper', showarrow=False, textangle=angle, xanchor='center', yanchor='middle',
                    font=dict(size=size, color='#111', family=FONT)))


for letter, px, py in (('A', 13, 15), ('B', 587, 14), ('C', 13, 322), ('D', 587, 322)):
    note(letter, px, py, 15)
for px, py, s in ((240, 146, 10), (250, 276, 10), (853, 273, 7.5), (243, 452, 9.5),
                  (243, 574, 9.5), (858, 454, 9.5), (858, 573, 9.5)):
    note('Time[seconds]', px, py, s)
for txt, px, py, s in (('ECG', 10, 85, 9.5), ('PPG', 10, 210, 9.5), ('ECG', 621, 79, 6),
                       ('PPG', 621, 213, 6), ('ECG', 10, 390, 9), ('PPG', 10, 517, 9),
                       ('ECG', 615, 392, 9), ('PPG', 615, 508, 9)):
    note(txt, px, py, s, angle=-90)

fig.update_layout(width=W, height=H, autosize=False, margin=dict(l=0, r=0, t=0, b=0),
                  paper_bgcolor='white', plot_bgcolor='white', showlegend=False,
                  annotations=ann, font=dict(family=FONT), **lay)

fig.write_html('out.html', config={'displayModeBar': False},
               post_script="document.body.style.margin='0';document.body.style.overflow='hidden';")
